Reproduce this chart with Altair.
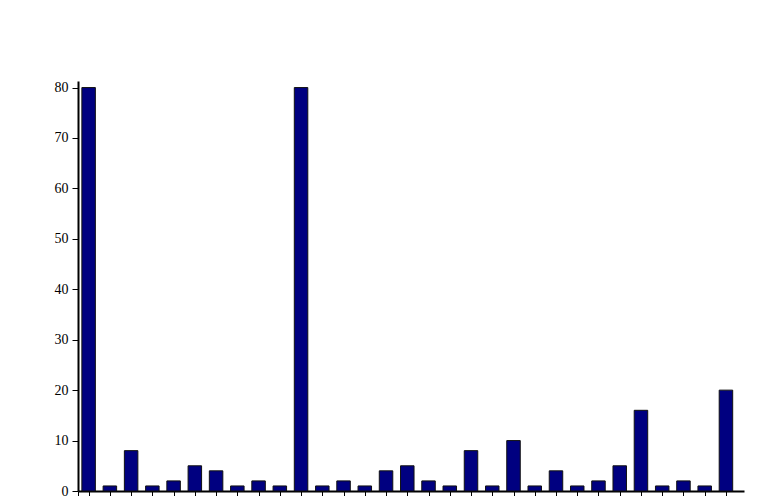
import altair as alt
import pandas as pd

values = [80, 1, 8, 1, 2, 5, 4, 1, 2, 1, 80, 1, 2, 1, 4, 5, 2, 1, 8, 1,
          10, 1, 4, 1, 2, 5, 16, 1, 2, 1, 20]
positions = [i + 0.5 for i in range(len(values))]
x_ticks = [0] + positions
y_ticks = [0, 10, 20, 30, 40, 50, 60, 70, 80]

df = pd.DataFrame({"pos": positions, "value": values})

chart = alt.Chart(df).mark_bar(
    size=13.5, color="#000080", stroke="#111111", strokeWidth=1
).encode(
    x=alt.X("pos:Q", scale=alt.Scale(domain=[0, 31.35], nice=False, zero=False, padding=0),
            axis=alt.Axis(values=x_ticks, labels=False, title=None, grid=False,
                          domainColor="black", domainWidth=2, tickColor="black",
                          tickSize=6, tickWidth=1)),
    y=alt.Y("value:Q", scale=alt.Scale(domain=[0, 81.3], nice=False, padding=0),
            axis=alt.Axis(values=y_ticks, title=None, grid=False,
                          domainColor="black", domainWidth=2, tickColor="black",
                          tickSize=6, tickWidth=1, labelFont="Liberation Serif",
                          labelFontSize=14, labelColor="black", labelPadding=4)),
).properties(
    width=666, height=410,
    autosize=alt.AutoSizeParams(type="none"),
    padding={"left": 70, "top": 73, "right": 20, "bottom": 5},
).configure_view(stroke=None)

chart.save("out.html", embed_options={"renderer": "svg", "actions": False})
